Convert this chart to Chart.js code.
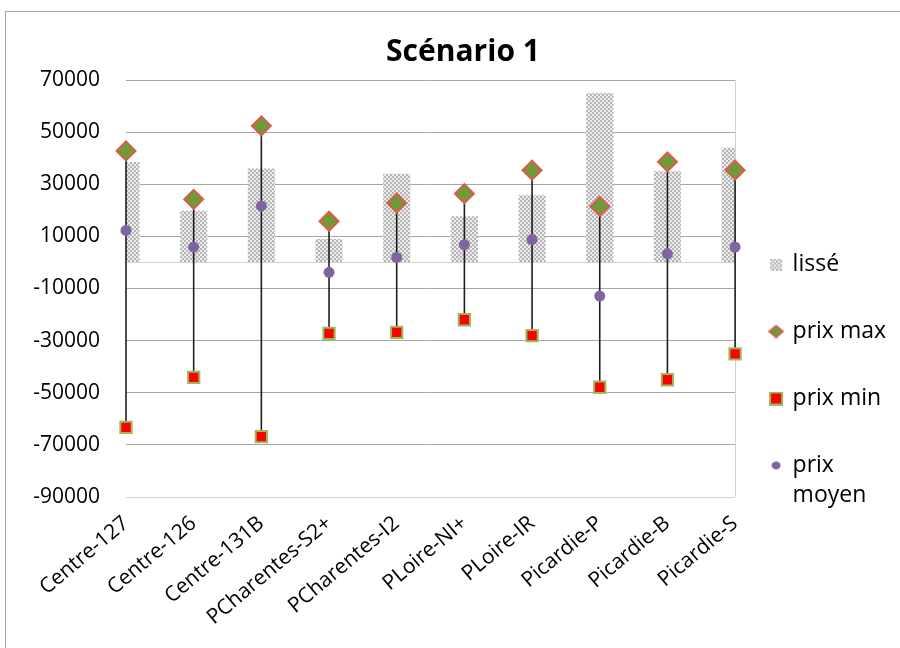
<!DOCTYPE html>
<html><head><meta charset="utf-8">
<script src="https://cdn.jsdelivr.net/npm/chart.js@4/dist/chart.umd.min.js"></script>
<style>html,body{margin:0;padding:0;background:#fff;}canvas{display:block;}</style>
</head><body>
<canvas id="c" width="900" height="648"></canvas>
<script>
const titleText = 'Scénario 1';
const categories = ['Centre-127','Centre-126','Centre-131B','PCharentes-S2+','PCharentes-I2','PLoire-NI+','PLoire-IR','Picardie-P','Picardie-B','Picardie-S'];
const lisse     = [38500, 19800, 36000,  9000, 34000, 17700, 25800, 65000, 35000, 44000];
const prixMax   = [42800, 24200, 52400, 15800, 22800, 26400, 35400, 21500, 38600, 35400];
const prixMin   = [-63300, -44100, -66800, -27200, -26800, -22000, -28100, -47900, -45000, -35100];
const prixMoyen = [12300, 5900, 21700, -3800, 1900, 6800, 8800, -12900, 3300, 5900];
const seriesNames = ['lissé', 'prix max', 'prix min', 'prix moyen'];
const yTicks = [-90000, -70000, -50000, -30000, -10000, 10000, 30000, 50000, 70000];

const FONT = 'Open Sans';
const GREEN = '#6f9a38', SALMON = '#dc5c4c', RED = '#ff0000', LGREEN = '#9bbb59', PURPLE = '#8064a2';

const canvas = document.getElementById('c');
const mainCtx = canvas.getContext('2d');
const tile = document.createElement('canvas'); tile.width = 4; tile.height = 4;
const tg = tile.getContext('2d');
tg.fillStyle = '#ededed'; tg.fillRect(0,0,4,4);
tg.fillStyle = '#b5b5b5'; tg.fillRect(0,0,2,2); tg.fillRect(2,2,2,2);
const pattern = mainCtx.createPattern(tile, 'repeat');

// legend icons: marker drawn left of the icon canvas centre (shift 4px left)
function icon(w, h, draw) { const c = document.createElement('canvas'); c.width = w + 8; c.height = h; draw(c.getContext('2d')); return c; }
const icons = [
  icon(12, 12, g => { g.fillStyle = pattern; g.fillRect(0,0,12,12); }),
  icon(16, 14, g => { g.beginPath(); g.moveTo(8,1); g.lineTo(15,7); g.lineTo(8,13); g.lineTo(1,7); g.closePath(); g.fillStyle = GREEN; g.fill(); g.strokeStyle = SALMON; g.lineWidth = 1.5; g.stroke(); }),
  icon(14, 14, g => { g.fillStyle = LGREEN; g.fillRect(0,0,14,14); g.fillStyle = RED; g.fillRect(2,2,10,10); }),
  icon(10, 10, g => { g.beginPath(); g.ellipse(5,5,4.5,4,0,0,2*Math.PI); g.fillStyle = PURPLE; g.fill(); })
];

const framePlugin = {
  id: 'frame',
  beforeDraw(chart) {
    const c = chart.ctx; c.save(); c.strokeStyle = '#a6a6a6'; c.lineWidth = 1;
    c.strokeRect(5.5, 11.5, 1000, 1000); c.restore();
  }
};

new Chart(canvas, {
  type: 'bar',
  data: {
    labels: categories,
    datasets: [
      { type: 'bar', label: seriesNames[0], data: lisse, backgroundColor: pattern, borderWidth: 0,
        grouped: false, barPercentage: 0.4, categoryPercentage: 1, order: 5, clip: 0 },
      { type: 'line', label: seriesNames[1], data: prixMax, showLine: false, pointStyle: 'rectRot',
        pointRadius: 9.5, pointBackgroundColor: GREEN, pointBorderColor: SALMON, pointBorderWidth: 2, order: 2, clip: false },
      { type: 'line', label: seriesNames[2], data: prixMin, showLine: false, pointStyle: 'rect',
        pointRadius: 8, pointBackgroundColor: RED, pointBorderColor: LGREEN, pointBorderWidth: 2, order: 3, clip: false },
      { type: 'line', label: seriesNames[3], data: prixMoyen, showLine: false, pointStyle: 'circle',
        pointRadius: 5.5, pointBackgroundColor: PURPLE, pointBorderColor: PURPLE, pointBorderWidth: 0, order: 1, clip: false },
      { type: 'bar', label: 'range', data: prixMin.map((v, i) => [v, prixMax[i]]), backgroundColor: '#1e1e1e',
        borderWidth: 0, grouped: false, maxBarThickness: 1.6, order: 4, clip: false }
    ]
  },
  options: {
    responsive: false,
    animation: false,
    layout: { padding: { left: 30, right: 4, top: 0, bottom: 0 } },
    plugins: {
      title: { display: true, text: titleText, color: '#000',
        font: { family: FONT, size: 30, weight: 'bold', lineHeight: 1.2 }, padding: { top: 34, bottom: 10 } },
      legend: {
        position: 'right', align: 'start',
        title: { display: true, text: '', padding: { top: 199, bottom: 0 }, font: { size: 10, lineHeight: 1 } },
        labels: {
          usePointStyle: true, boxWidth: 2, boxHeight: 2, padding: 44, color: '#000',
          font: { family: FONT, size: 23, lineHeight: 1.3 },
          generateLabels: () => seriesNames.map((name, i) => ({
            text: name.length > 8 ? name.split(' ') : name,
            pointStyle: icons[i], fillStyle: 'rgba(0,0,0,0)', strokeStyle: 'rgba(0,0,0,0)',
            lineWidth: 0, hidden: false, datasetIndex: i, fontColor: '#000'
          }))
        }
      },
      tooltip: { enabled: false }
    },
    scales: {
      x: {
        type: 'category', offset: false,
        grid: { offset: false, drawTicks: false,
          color: ctx => ctx.index === categories.length - 1 ? '#d0d0d0' : 'rgba(0,0,0,0)' },
        border: { display: false },
        ticks: { autoSkip: false, minRotation: 40, maxRotation: 40, padding: 14, color: '#000',
          font: { family: FONT, size: 21 } },
        afterFit: s => { s.height = 151; }
      },
      y: {
        min: yTicks[0], max: yTicks[yTicks.length - 1],
        afterBuildTicks: s => { s.ticks = yTicks.concat([0]).sort((a, b) => a - b).map(v => ({ value: v })); },
        grid: { drawTicks: false,
          color: ctx => (ctx.tick && (ctx.tick.value === 0 || ctx.tick.value === yTicks[0])) ? '#d0d0d0' : '#a6a6a6' },
        border: { display: false },
        ticks: { padding: 26, color: '#000', font: { family: FONT, size: 21 },
          callback: v => v === 0 ? '' : String(v) },
        afterFit: s => { s.width = 96; }
      }
    }
  },
  plugins: [framePlugin]
});
</script>
</body></html>
